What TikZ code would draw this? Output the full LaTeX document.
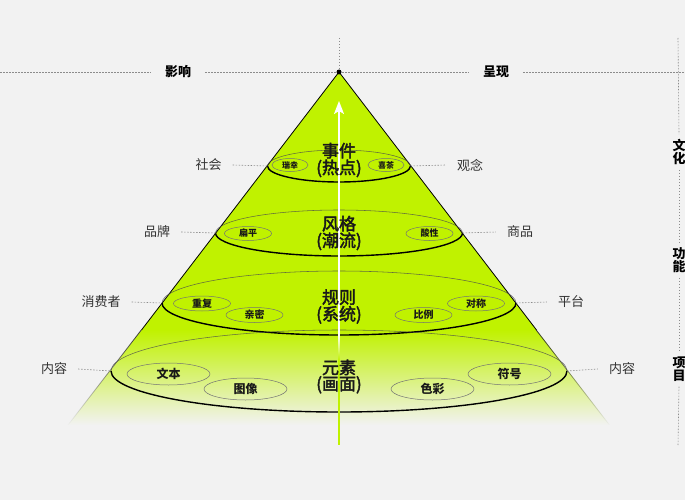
\documentclass[tikz,border=0pt]{standalone}
\usepackage{fontspec}
\setmainfont{Noto Sans CJK SC}
\newfontfamily\medfont[FakeBold=2.5]{Noto Sans CJK SC}
\usetikzlibrary{shapes.geometric,arrows.meta,fadings}
\definecolor{bgc}{HTML}{F2F2F2}
\definecolor{lime}{RGB}{192,242,0}
\definecolor{labc}{HTML}{333333}
\tikzfading[name=edgefade, top color=transparent!0, bottom color=transparent!100]
\begin{document}
\begin{tikzpicture}[x=1pt,y=-1pt,
  dashline/.style={draw=black!45, line width=0.6pt, dash pattern=on 1.5pt off 1.5pt},
  sidelab/.style={font=\fontsize{13}{13}\selectfont, text=labc, inner ysep=2pt, inner xsep=11pt},
  toplab/.style={font=\bfseries\fontsize{13}{13}\selectfont, inner ysep=2pt, inner xsep=14pt},
  vlab/.style={font=\bfseries\fontsize{13}{13}\selectfont, align=center, inner xsep=0pt, inner ysep=5pt},
  layer/.style={ellipse, inner sep=0pt, outer sep=0pt},
  thinarc/.style={draw=black!70, line width=0.55pt, opacity=0.8},
  thickarc/.style={draw=black, line width=1.4pt},
  title/.style={font=\medfont\fontsize{17}{14.5}\selectfont, align=center, inner sep=0pt, text=black!90},
  tagbase/.style={ellipse, draw=black!55, line width=0.5pt, inner sep=0pt, outer sep=0pt, text=black!90},
  tagS/.style={tagbase, minimum width=36pt, minimum height=13pt, font=\bfseries\fontsize{8}{8}\selectfont},
  tagM/.style={tagbase, minimum width=47pt, minimum height=14pt, font=\bfseries\fontsize{9}{9}\selectfont},
  tagL/.style={tagbase, minimum width=57pt, minimum height=15pt, font=\bfseries\fontsize{10}{10}\selectfont},
  tagXL/.style={tagbase, minimum width=83pt, minimum height=22pt, font=\bfseries\fontsize{12}{12}\selectfont},
]
% background
\fill[bgc] (0,0) rectangle (685,500);
\useasboundingbox (0,0) rectangle (685,500);

% key coordinates
\coordinate (apex) at (339,72);
\coordinate (eL1) at (141.1,330.5);
\coordinate (eR1) at (536.9,330.5);
\coordinate (eL0) at (141.5,330);
\coordinate (eR0) at (536.5,330);
\coordinate (eL2) at (68.2,425);
\coordinate (eR2) at (609.8,425);

% top and right guide lines
\coordinate (hl) at (0,72);
\coordinate (hr) at (685,72);
\coordinate (vt) at (339,38);
\coordinate (rt) at (678,38);
\coordinate (rb) at (678,445);
\node[toplab] (yingxiang) at (178,72) {影响};
\node[toplab] (chengxian) at (496,72) {呈现};
\node[vlab] (wenhua) at (679,152) {文\\化};
\node[vlab] (gongneng) at (679,260) {功\\能};
\node[vlab] (xiangmu) at (679,369) {项\\目};
\draw[dashline] (hl) -- (yingxiang.west);
\draw[dashline] (yingxiang.east) -- (apex);
\draw[dashline] (apex) -- (chengxian.west);
\draw[dashline] (chengxian.east) -- (hr);
\draw[dashline] (vt) -- (apex);
\draw[dashline] (rt) -- (wenhua.north);
\draw[dashline] (wenhua.south) -- (gongneng.north);
\draw[dashline] (gongneng.south) -- (xiangmu.north);
\draw[dashline] (xiangmu.south) -- (rb);

% pyramid fill
\fill[lime] (apex) -- (eR1) -- (eL1) -- cycle;
\shade[top color=lime, bottom color=bgc] (eL0) -- (eR0) -- (eR2) -- (eL2) -- cycle;
% pyramid edges
\draw[black, line width=0.8pt, line join=miter] (eL0) -- (apex) -- (eR0);
\draw[black!80, line width=0.8pt, path fading=edgefade] (eL0) -- (eL2) (eR0) -- (eR2);

% layer ellipses
\node[layer, minimum width=143pt, minimum height=32pt] (L1) at (339,166) {};
\node[layer, minimum width=247pt, minimum height=46pt] (L2) at (339,233) {};
\node[layer, minimum width=354pt, minimum height=64pt] (L3) at (339,303) {};
\node[layer, minimum width=456pt, minimum height=82pt] (L4) at (339,371) {};
\draw[thinarc] (L1.west) arc[start angle=180, end angle=0, x radius=71.5pt, y radius=16pt];
\draw[thickarc] (L1.west) arc[start angle=180, end angle=360, x radius=71.5pt, y radius=16pt];
\draw[thinarc] (L2.west) arc[start angle=180, end angle=0, x radius=123.5pt, y radius=23pt];
\draw[thickarc] (L2.west) arc[start angle=180, end angle=360, x radius=123.5pt, y radius=23pt];
\draw[thinarc] (L3.west) arc[start angle=180, end angle=0, x radius=177pt, y radius=32pt];
\draw[thickarc] (L3.west) arc[start angle=180, end angle=360, x radius=177pt, y radius=32pt];
\draw[thinarc] (L4.west) arc[start angle=180, end angle=0, x radius=228pt, y radius=41pt];
\draw[thickarc] (L4.west) arc[start angle=180, end angle=360, x radius=228pt, y radius=41pt];

% center axis
\coordinate (ctop) at (339,101);
\coordinate (cmid) at (339,336);
\coordinate (cbot) at (339,445);
\draw[white, line width=1.6pt, -{Stealth[length=13pt, width=10pt, inset=3pt]}] (cmid) -- (ctop);
\shade[top color=white, bottom color=lime] (338.2,335) rectangle (339.8,360);
\fill[lime] (338.2,359.5) rectangle (339.8,445);
\node[circle, fill=black, inner sep=0pt, minimum size=5pt] (apexdot) at (apex) {};

% titles
\node[title] (t1) at (339,160) {事件\\(热点)};
\node[title] (t2) at (339,233) {风格\\(潮流)};
\node[title] (t3) at (339,306.5) {规则\\(系统)};
\node[title] (t4) at (339,376.5) {元素\\(画面)};

% tags
\node[tagS] (ruixing) at (290,165) {瑞幸};
\node[tagS] (xicha) at (386,165) {喜茶};
\node[tagM] (bianping) at (248,233.5) {扁平};
\node[tagM] (suanxing) at (429.5,233.5) {酸性};
\node[tagL] (chongfu) at (202,303.5) {重复};
\node[tagL] (qinmi) at (254.5,315) {亲密};
\node[tagL] (bili) at (423.5,315) {比例};
\node[tagL] (duichen) at (476,303.5) {对称};
\node[tagXL] (wenben) at (168.5,374) {文本};
\node[tagXL] (tuxiang) at (245.5,389) {图像};
\node[tagXL] (secai) at (432.5,389) {色彩};
\node[tagXL] (fuhao) at (509.5,374) {符号};

% side labels
\node[sidelab] (shehui) at (208.5,165) {社会};
\node[sidelab] (guannian) at (470,165) {观念};
\node[sidelab] (pinpai) at (157,232) {品牌};
\node[sidelab] (shangpin) at (520,232) {商品};
\node[sidelab] (xiaofei) at (101,302) {消费者};
\node[sidelab] (pingtai) at (571,302) {平台};
\node[sidelab] (neirongL) at (54,369) {内容};
\node[sidelab] (neirongR) at (622,369) {内容};
\draw[dashline] (shehui.east) -- (L1.west);
\draw[dashline] (L1.east) -- (guannian.west);
\draw[dashline] (pinpai.east) -- (L2.west);
\draw[dashline] (L2.east) -- (shangpin.west);
\draw[dashline] (xiaofei.east) -- (L3.west);
\draw[dashline] (L3.east) -- (pingtai.west);
\draw[dashline] (neirongL.east) -- (L4.west);
\draw[dashline] (L4.east) -- (neirongR.west);
\end{tikzpicture}
\end{document}
